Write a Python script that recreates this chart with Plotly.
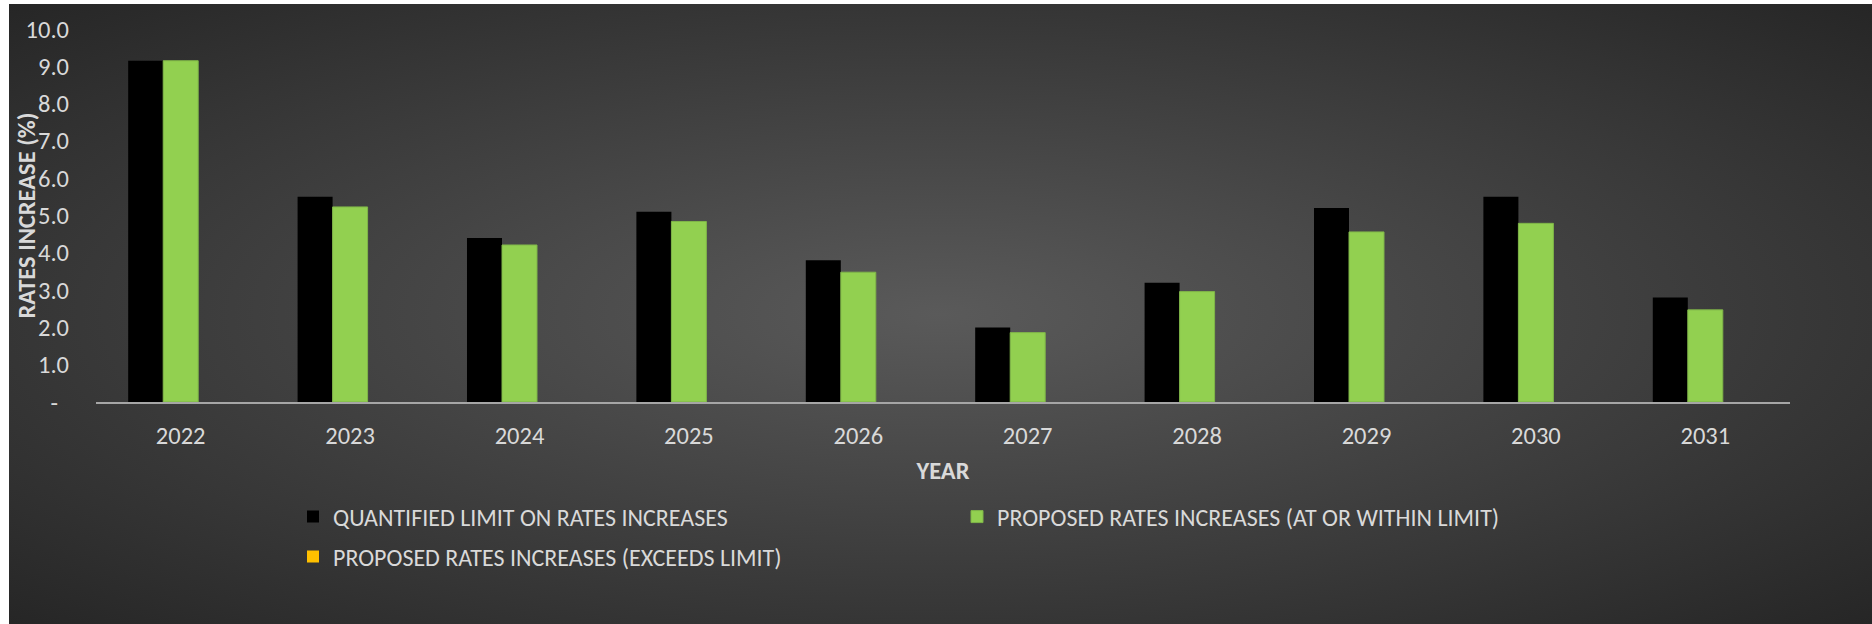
import plotly.graph_objects as go

# ---- data ----
years = ["2022", "2023", "2024", "2025", "2026", "2027", "2028", "2029", "2030", "2031"]
limit_values = [9.15, 5.50, 4.40, 5.10, 3.80, 2.00, 3.20, 5.20, 5.50, 2.80]
within_values = [9.15, 5.23, 4.21, 4.84, 3.48, 1.86, 2.96, 4.56, 4.79, 2.47]
exceeds_values = [0, 0, 0, 0, 0, 0, 0, 0, 0, 0]
series_names = [
    "QUANTIFIED LIMIT ON RATES INCREASES",
    "PROPOSED RATES INCREASES (AT OR WITHIN LIMIT)",
    "PROPOSED RATES INCREASES (EXCEEDS LIMIT)",
]
y_tickvals = [0, 1, 2, 3, 4, 5, 6, 7, 8, 9, 10]
y_ticktext = ["-\u00a0\u00a0", "1.0", "2.0", "3.0", "4.0", "5.0", "6.0", "7.0", "8.0", "9.0", "10.0"]

W, H = 1872, 624
FONT = "Calibri, Carlito, Lato, sans-serif"
TXT = "#d9d9d9"
TICK_SIZE = 24.5
LEG_SIZE = 24
TITLE_SIZE = 24.5

fig = go.Figure()

# ---- background radial gradient (chart area) ----
cx, cy = 940, 310
A, B = 931 * 1.414, 310 * 1.414
fig.add_trace(go.Scatter(
    x=[cx - A, cx + A, cx + A, cx - A, cx - A],
    y=[cy - B, cy - B, cy + B, cy + B, cy - B],
    mode="lines", fill="toself", line=dict(width=0),
    fillgradient=dict(type="radial", colorscale=[[0, "#5a5a5a"], [1, "#262626"]]),
    hoverinfo="skip", showlegend=False, xaxis="x", yaxis="y",
))

# ---- bars ----
fig.add_trace(go.Bar(x=years, y=limit_values, name=series_names[0],
                     marker=dict(color="#000000", line=dict(width=0)),
                     xaxis="x2", yaxis="y2", legend="legend"))
fig.add_trace(go.Bar(x=years, y=within_values, name=series_names[1],
                     marker=dict(color="#92D050", line=dict(color="#7fb548", width=1)),
                     xaxis="x2", yaxis="y2", legend="legend"))
fig.add_trace(go.Bar(x=years, y=exceeds_values, name=series_names[2],
                     marker=dict(color="#FFC000", line=dict(width=0)),
                     xaxis="x2", yaxis="y2", legend="legend2"))

plot_l, plot_r, plot_t, plot_b = 96, 1790, 29, 402

fig.update_layout(
    width=W, height=H,
    margin=dict(l=0, r=0, t=0, b=0, autoexpand=False),
    paper_bgcolor="#ffffff",
    plot_bgcolor="rgba(0,0,0,0)",
    font=dict(family=FONT, size=LEG_SIZE, color=TXT),
    barmode="group", bargap=0.38, bargroupgap=0,
    hovermode=False,
    xaxis=dict(domain=[9 / W, 1], range=[9, W], visible=False, fixedrange=True),
    yaxis=dict(domain=[0, 620 / H], range=[0, 620], visible=False, fixedrange=True),
    xaxis2=dict(
        domain=[plot_l / W, plot_r / W], anchor="y2",
        showline=True, linecolor="#a6a6a6", linewidth=2,
        showgrid=False, ticks="", ticklabelstandoff=11,
        tickfont=dict(size=TICK_SIZE, color=TXT),
        title=dict(text="<b>YEAR</b>", font=dict(size=TITLE_SIZE, color=TXT), standoff=11),
    ),
    yaxis2=dict(
        domain=[1 - plot_b / H, 1 - plot_t / H], anchor="x2",
        range=[0, 10], tickvals=y_tickvals, ticktext=y_ticktext,
        showgrid=False, zeroline=False, showline=False, ticks="",
        ticklabelstandoff=26, tickfont=dict(size=TICK_SIZE, color=TXT),
    ),
    legend=dict(
        orientation="h", x=293 / W, xanchor="left", y=1 - 517 / H, yanchor="middle",
        entrywidth=619, entrywidthmode="pixels",
        bgcolor="rgba(0,0,0,0)", font=dict(size=LEG_SIZE, color=TXT),
    ),
    legend2=dict(
        orientation="h", x=293 / W, xanchor="left", y=1 - 557 / H, yanchor="middle",
        bgcolor="rgba(0,0,0,0)", font=dict(size=LEG_SIZE, color=TXT),
    ),
    annotations=[dict(
        text="<b>RATES INCREASE (%)</b>", textangle=-90,
        xref="paper", yref="paper", x=26 / W, y=1 - (plot_t + plot_b) / 2 / H,
        xanchor="center", yanchor="middle", showarrow=False,
        font=dict(size=TITLE_SIZE, color=TXT),
    )],
)

fig.write_html(
    "out.html",
    config={"displayModeBar": False},
    post_script="document.documentElement.style.margin='0';document.body.style.margin='0';document.body.style.overflow='hidden';",
)
